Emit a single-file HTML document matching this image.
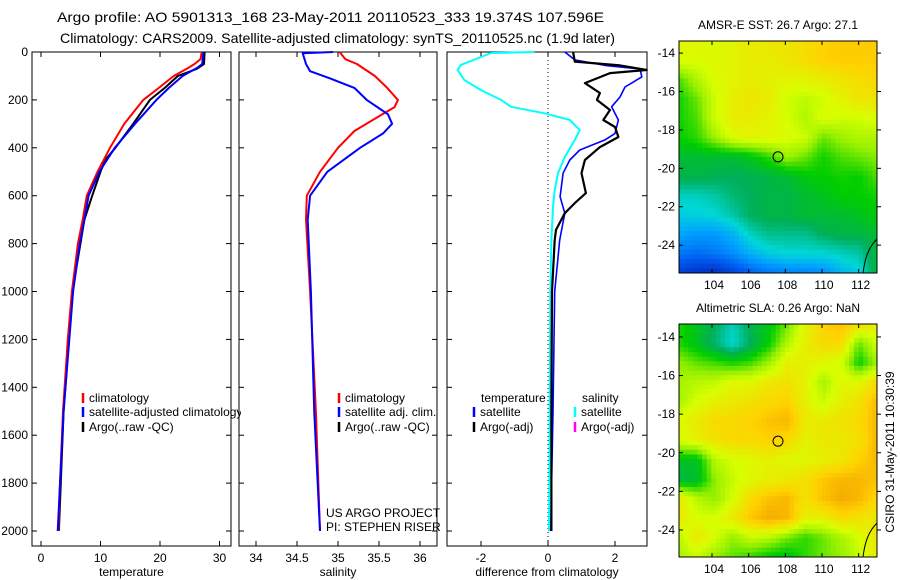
<!DOCTYPE html>
<html><head><meta charset="utf-8"><style>
html,body{margin:0;padding:0;background:#fff;}
svg{display:block;font-family:"Liberation Sans",Arial,sans-serif;}
</style></head><body>
<svg id="fig" width="900" height="580" viewBox="0 0 900 580" xmlns="http://www.w3.org/2000/svg">
<defs><clipPath id="clipP1"><rect x="0" y="380" width="241" height="60"/></clipPath></defs>
<text x="57" y="22" textLength="547" lengthAdjust="spacingAndGlyphs" font-size="14">Argo profile: AO 5901313_168 23-May-2011 20110523_333 19.374S 107.596E</text>
<text x="60" y="43" textLength="555" lengthAdjust="spacingAndGlyphs" font-size="14">Climatology: CARS2009. Satellite-adjusted climatology: synTS_20110525.nc (1.9d later)</text>
<g id="g"></g>
</svg>
<script>
// ---- data ----
const depthTicks=[0,200,400,600,800,1000,1200,1400,1600,1800,2000];
const tempTicks=[0,10,20,30];
const salTicks=[34,34.5,35,35.5,36];
const diffTicks=[-2,0,2];
const lonTicks=[104,106,108,110,112];
const latTicks=[-14,-16,-18,-20,-22,-24];

const tClimD=[0,30,50,70,100,150,200,300,400,500,600,700,800,1000,1200,1500,1800,2000];
const tClimV=[27,26.8,25.8,24.5,22.3,19.8,17.2,14.0,11.6,9.5,7.7,7.0,6.2,5.2,4.5,3.7,3.2,2.9];
const tSatD=[0,50,65,100,150,200,300,400,500,600,700,800,1000,1500,2000];
const tSatV=[27.3,27.1,26.3,23.8,21.5,19.4,15.8,12.4,9.8,8.0,7.3,6.5,5.4,3.8,2.8];
const tArgoD=[0,50,70,100,150,200,300,400,450,500,600,700,1000,1500,2000];
const tArgoV=[27.5,27.4,26.2,23.0,20.8,18.3,15.5,12.5,10.8,10.0,8.6,7.3,5.3,3.8,3.0];

const sClimD=[0,30,50,100,150,200,230,270,330,400,500,600,700,1000,1500,2000];
const sClimV=[35.02,35.09,35.23,35.45,35.6,35.73,35.69,35.49,35.2,35.0,34.78,34.62,34.61,34.66,34.73,34.78];
const sSatD=[0,5,50,80,110,150,200,260,300,340,400,500,600,700,1000,1500,2000];
const sSatV=[34.94,34.57,34.61,34.66,34.9,35.2,35.35,35.61,35.66,35.55,35.27,34.87,34.66,34.63,34.67,34.71,34.78];

const dSSatD=[0,4,54,75,117,159,200,229,256,284,326,367,438,506,576,647,785,1000,1500,2000];
const dSSatV=[-0.4,-1.7,-2.6,-2.7,-2.5,-2.0,-1.4,-1.1,-0.1,0.65,0.95,0.8,0.5,0.3,0.2,0.15,0.1,0.07,0.05,0.03];
const dTSatD=[0,33,56,71,104,146,188,229,284,340,367,409,451,506,604,673,785,1000,1500,2000];
const dTSatV=[0.5,0.8,1.7,2.75,2.8,2.3,2.15,1.9,2.1,2.0,1.7,0.95,0.65,0.45,0.36,0.5,0.35,0.2,0.15,0.08];
const dTArgoD=[0,40,56,75,88,130,171,200,242,284,313,355,397,451,506,589,631,673,743,785,1000,1500,2000];
const dTArgoV=[0.75,0.8,2.15,2.95,1.85,1.1,1.55,1.46,1.85,1.65,2.0,2.1,1.55,1.1,1.0,1.13,0.8,0.5,0.24,0.2,0.12,0.1,0.1];

const sstGrid=[
[.75,.75,.74,.76,.78,.8,.8,.82,.85,.86,.86,.86],
[.74,.74,.75,.76,.78,.78,.8,.82,.85,.86,.86,.86],
[.6,.68,.74,.76,.78,.77,.76,.76,.78,.8,.82,.84],
[.56,.62,.72,.78,.8,.78,.72,.7,.72,.76,.8,.8],
[.56,.6,.72,.78,.78,.76,.73,.68,.74,.72,.72,.74],
[.55,.58,.66,.74,.76,.76,.74,.72,.62,.66,.68,.68],
[.5,.5,.5,.5,.53,.58,.66,.62,.56,.6,.62,.64],
[.48,.48,.47,.46,.47,.48,.5,.54,.55,.56,.55,.6],
[.38,.38,.4,.44,.46,.48,.48,.5,.52,.55,.55,.56],
[.34,.35,.36,.4,.46,.48,.48,.5,.5,.5,.52,.54],
[.28,.26,.26,.3,.38,.42,.42,.42,.46,.48,.48,.5],
[.2,.18,.2,.24,.3,.34,.36,.36,.36,.38,.4,.5],
[.08,.06,.04,.1,.16,.2,.22,.22,.24,.3,.34,.5]];
const slaGrid=[
[.57,.52,.46,.38,.48,.53,.62,.76,.85,.88,.83,.77],
[.57,.52,.44,.36,.46,.55,.68,.77,.83,.83,.62,.73],
[.65,.61,.59,.56,.59,.66,.77,.77,.75,.73,.55,.66],
[.67,.69,.7,.75,.75,.79,.81,.77,.67,.75,.75,.83],
[.67,.73,.77,.79,.81,.83,.85,.77,.71,.77,.81,.89],
[.75,.79,.83,.83,.85,.88,.9,.79,.79,.81,.83,.9],
[.73,.77,.81,.83,.83,.85,.83,.77,.79,.79,.81,.9],
[.52,.52,.69,.73,.75,.77,.75,.75,.77,.79,.85,.9],
[.48,.5,.65,.71,.75,.77,.79,.81,.87,.9,.9,.88],
[.79,.69,.65,.73,.83,.88,.9,.81,.88,.92,.9,.83],
[.79,.73,.73,.79,.87,.92,.9,.77,.77,.83,.81,.79],
[.69,.79,.73,.65,.71,.69,.63,.58,.62,.67,.73,.79],
[.67,.71,.65,.61,.58,.54,.52,.58,.62,.65,.71,.79]];
const argoLon=107.6, argoLat=-19.4;

// ---- helpers ----
const NS="http://www.w3.org/2000/svg";
const G=document.getElementById('g');
function mk(tag,attrs,parent){const e=document.createElementNS(NS,tag);for(const k in attrs)e.setAttribute(k,attrs[k]);(parent||G).appendChild(e);return e;}
function txt(x,y,s,anchor,size,parent){const t=mk('text',{x:x,y:y,'text-anchor':anchor||'start','font-size':size||12},parent);t.textContent=s;return t;}
const yD=d=>52+d*0.2395;
const P1={x0:32,x1:231,f:v=>41+v*5.95};
const P2={x0:239,x1:437,f:v=>256+(v-34)*82};
const P3={x0:447,x1:647,f:v=>548+v*33.5};
const Y0=52,Y1=546;

function frame(P,ticks,label,name,showY){
  const r=mk('rect',{x:P.x0,y:Y0,width:P.x1-P.x0,height:Y1-Y0,fill:'none',stroke:'#000','stroke-width':1});
  
  
  ticks.forEach(v=>{const x=P.f(v);
    mk('line',{x1:x,x2:x,y1:Y1,y2:Y1-5,stroke:'#000'});mk('line',{x1:x,x2:x,y1:Y0,y2:Y0+5,stroke:'#000'});
    const t=txt(x,Y1+16,String(v),'middle',12);
    
    
  });
  depthTicks.forEach(d=>{const y=yD(d);
    mk('line',{x1:P.x0,x2:P.x0+5,y1:y,y2:y,stroke:'#000'});mk('line',{x1:P.x1,x2:P.x1-5,y1:y,y2:y,stroke:'#000'});
    if(showY){const t=txt(28,y+4,String(d),'end',12);
      
      }
  });
  const l=txt((P.x0+P.x1)/2,Y1+30,label,'middle',12);
  
  
}
function profile(P,ds,vs,color,w,name){
  const pts=ds.map((d,i)=>P.f(vs[i]).toFixed(1)+','+yD(d).toFixed(1)).join(' ');
  const p=mk('polyline',{points:pts,fill:'none',stroke:color,'stroke-width':w,'stroke-linejoin':'round'});
  
  
}
function legend(x,y,color,label,name,clip){
  mk('line',{x1:x,x2:x,y1:y-9,y2:y+1,stroke:color,'stroke-width':2.5});
  const t=txt(x+6,y,label,'start',12);
  if(clip)t.setAttribute('clip-path','url(#clipP1)');
  
  
}

// panel 1
frame(P1,tempTicks,'temperature','temperature-panel',true);
profile(P1,tArgoD,tArgoV,'#000',2,'temperature-argo-line');
profile(P1,tClimD,tClimV,'#f00',2,'temperature-climatology-line');
profile(P1,tSatD,tSatV,'#00f',2,'temperature-satellite-line');
legend(83,402,'#f00','climatology','legend-climatology');
legend(83,416,'#00f','satellite-adjusted climatology','legend-satellite-adjusted',true);
legend(83,431,'#000','Argo(..raw -QC)','legend-argo-raw');

// panel 2
frame(P2,salTicks,'salinity','salinity-panel',false);
profile(P2,sClimD,sClimV,'#f00',2,'salinity-climatology-line');
profile(P2,sSatD,sSatV,'#00f',2,'salinity-satellite-line');
legend(339,402,'#f00','climatology','legend-sal-climatology');
legend(339,416,'#00f','satellite adj. clim.','legend-sal-satellite');
legend(339,431,'#000','Argo(..raw -QC)','legend-sal-argo');
let t=txt(326,517,'US ARGO PROJECT','start',12);


t=txt(326,531,'PI: STEPHEN RISER','start',12);



// panel 3
frame(P3,diffTicks,'difference from climatology','difference-panel',false);
mk('line',{x1:P3.f(0),x2:P3.f(0),y1:Y0,y2:Y1,stroke:'#000','stroke-dasharray':'1,3'});
profile(P3,dSSatD,dSSatV,'#0ff',2,'salinity-diff-satellite-line');
profile(P3,dTSatD,dTSatV,'#00f',1.6,'temperature-diff-satellite-line');
profile(P3,dTArgoD,dTArgoV,'#000',2.2,'temperature-diff-argo-line');
t=txt(481,402,'temperature','start',12);


t=txt(582,402,'salinity','start',12);


legend(474,416,'#00f','satellite','legend-diff-temp-satellite');
legend(474,431,'#000','Argo(-adj)','legend-diff-temp-argo');
legend(575,416,'#0ff','satellite','legend-diff-sal-satellite');
legend(575,431,'#f0f','Argo(-adj)','legend-diff-sal-argo');

// ---- maps ----
const cstops=[[0,[0,30,170]],[0.15,[0,90,240]],[0.27,[0,160,255]],[0.36,[0,215,215]],[0.46,[0,175,90]],[0.55,[0,205,0]],[0.65,[150,240,0]],[0.73,[215,255,0]],[0.85,[255,210,0]],[1,[235,130,0]]];
function cmap(v){v=Math.max(0,Math.min(1,v));for(let i=1;i<cstops.length;i++){if(v<=cstops[i][0]){const a=cstops[i-1],b=cstops[i],f=(v-a[0])/(b[0]-a[0]);return 'rgb('+a[1].map((c,k)=>Math.round(c+(b[1][k]-c)*f)).join(',')+')';}}return 'rgb(235,130,0)';}
function sample(grid,fx,fy){const R=grid.length-1,C=grid[0].length-1;const x=fx*C,y=fy*R;const i=Math.min(Math.floor(y),R-1),j=Math.min(Math.floor(x),C-1);const a=y-i,b=x-j;
  return grid[i][j]*(1-a)*(1-b)+grid[i][j+1]*(1-a)*b+grid[i+1][j]*a*(1-b)+grid[i+1][j+1]*a*b;}
function map(M,grid,title,name){
  const g=mk('g',{});
  
  
  const lonF=l=>M.x0+(l-M.lon0)*(M.x1-M.x0)/(M.lon1-M.lon0);
  const latF=l=>M.y0+(M.lat0-l)*(M.y1-M.y0)/(M.lat0-M.lat1);
  const NC=43,NR=50,cw=(M.x1-M.x0)/NC,ch=(M.y1-M.y0)/NR;
  for(let r=0;r<NR;r++)for(let c=0;c<NC;c++){
    mk('rect',{x:(M.x0+c*cw).toFixed(2),y:(M.y0+r*ch).toFixed(2),width:(cw+0.4).toFixed(2),height:(ch+0.4).toFixed(2),fill:cmap(sample(grid,(c+0.5)/NC,(r+0.5)/NR))},g);
  }
  mk('path',{d:`M${M.x1} ${M.y1-34} C${M.x1-8} ${M.y1-26} ${M.x1-12} ${M.y1-16} ${M.x1-14} ${M.y1}`,fill:'none',stroke:'#000','stroke-width':1},g);
  const c=mk('circle',{cx:lonF(argoLon),cy:latF(argoLat),r:5,fill:'none',stroke:'#000','stroke-width':1},g);
  
  
  mk('rect',{x:M.x0,y:M.y0,width:M.x1-M.x0,height:M.y1-M.y0,fill:'none',stroke:'#000'},g);
  lonTicks.forEach(l=>{const x=lonF(l);mk('line',{x1:x,x2:x,y1:M.y1,y2:M.y1-4,stroke:'#000'},g);mk('line',{x1:x,x2:x,y1:M.y0,y2:M.y0+4,stroke:'#000'},g);
    const tt=txt(x+2,M.y1+16,String(l),'middle',12,g);
    
    });
  latTicks.forEach(l=>{const y=latF(l);mk('line',{x1:M.x0,x2:M.x0+4,y1:y,y2:y,stroke:'#000'},g);mk('line',{x1:M.x1,x2:M.x1+4,y1:y,y2:y,stroke:'#000'},g);
    const tt=txt(M.x0-4,y+4,String(l),'end',12,g);
    
    });
  const tl=txt((M.x0+M.x1)/2,M.y0-12,title,'middle',12,g);
  
  
}
map({x0:679,x1:877,y0:41,y1:273,lon0:102.2,lon1:113,lat0:-13.37,lat1:-25.45},sstGrid,'AMSR-E SST: 26.7 Argo: 27.1','sst-map');
map({x0:679,x1:877,y0:324,y1:557,lon0:102.2,lon1:113,lat0:-13.33,lat1:-25.4},slaGrid,'Altimetric SLA: 0.26 Argo: NaN','sla-map');
t=txt(0,0,'CSIRO 31-May-2011 10:30:39','middle',12);
t.setAttribute('transform','translate(894,452) rotate(-90)');


</script>
</body></html>
